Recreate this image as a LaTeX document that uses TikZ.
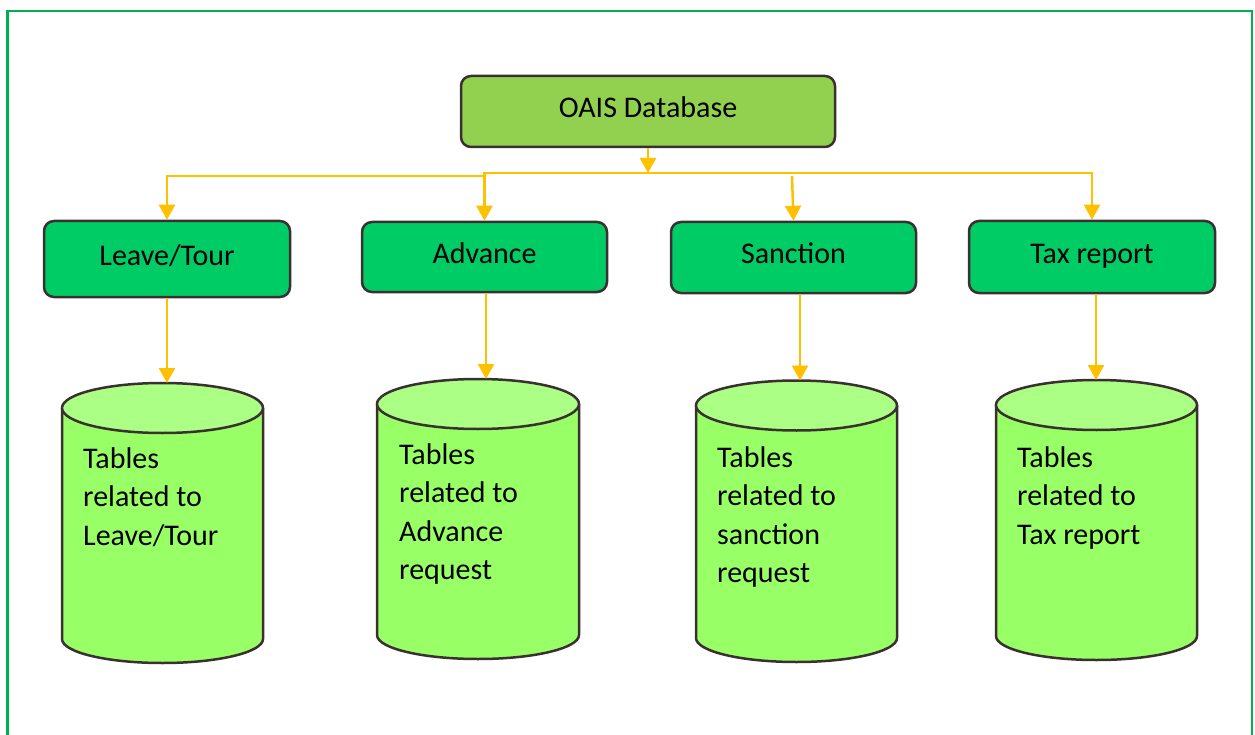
\documentclass[tikz,border=0pt]{standalone}
\usepackage{fontspec}
\setmainfont{Carlito}
\usetikzlibrary{arrows.meta}
\definecolor{framegreen}{HTML}{00B050}
\definecolor{boxgreen}{HTML}{00CC66}
\definecolor{topgreen}{HTML}{92D050}
\definecolor{cylbody}{HTML}{99FF66}
\definecolor{cyltop}{HTML}{ABFF85}
\definecolor{edge}{HTML}{3B3030}
\definecolor{arrowyellow}{HTML}{FFC000}
\newcommand\dbcylinder[6]{% cx, rx, top centre y, bottom centre y, name of top coordinate, arrow x
  \fill[cylbody] (#1-#2,#3) -- (#1-#2,#4) arc[start angle=180,end angle=360,x radius=#2pt,y radius=24pt] -- (#1+#2,#3) -- cycle;
  \draw[edge,line width=2.5pt] (#1-#2,#3) -- (#1-#2,#4) arc[start angle=180,end angle=360,x radius=#2pt,y radius=24pt] -- (#1+#2,#3);
  \filldraw[fill=cyltop,draw=edge,line width=2.5pt] (#1,#3) ellipse[x radius=#2pt,y radius=25pt];
  \coordinate (#5) at (#6,#3-25);
}
\begin{document}
\begin{tikzpicture}[x=1pt,y=-1pt,
  txt/.style={font=\fontsize{30}{38.5}\selectfont},
  catbox/.style={draw=edge,line width=2.5pt,fill=boxgreen,rounded corners=10pt,txt,
    text height=22pt,text depth=9pt,inner sep=0pt,minimum width=245pt,minimum height=71pt},
  conn/.style={draw=arrowyellow,line width=2.5pt},
  arr/.style={conn,-{Triangle[width=16pt,length=15pt]}},
  cyltext/.style={txt,align=left,anchor=north west,inner sep=0pt}]
\useasboundingbox (0,0) rectangle (1255,735);
\draw[framegreen,line width=2.5pt] (7.5,740) -- (7.5,11) -- (1252,11) -- (1252,740);

\node[catbox,fill=topgreen,minimum width=374pt,minimum height=71pt] (oais) at (648,111.5) {OAIS Database};
\node[catbox,minimum width=246pt,minimum height=76pt] (leave) at (167,259) {Leave/Tour};
\node[catbox,minimum height=70pt] (adv) at (484.5,257) {Advance};
\node[catbox] (sanc) at (793.5,257.5) {Sanction};
\node[catbox,minimum width=246pt,minimum height=72pt] (tax) at (1092,257) {Tax report};

\dbcylinder{162.5}{100.5}{408}{639}{c1}{167}
\dbcylinder{478}{101}{404}{635}{c2}{486}
\dbcylinder{796.5}{100.5}{405.5}{638}{c3}{800}
\dbcylinder{1096.5}{100.5}{405}{636}{c4}{1096}

\node[cyltext] (t1) at (83,447) {Tables\\related to\\Leave/Tour};
\node[cyltext] (t2) at (399,443) {Tables\\related to\\Advance\\request};
\node[cyltext] (t3) at (717,446) {Tables\\related to\\sanction\\request};
\node[cyltext] (t4) at (1017,446) {Tables\\related to\\Tax report};

\coordinate (j) at (648,173);
\coordinate (lj) at (485,176);
\coordinate (sj) at (792,176);
\draw[arr] (oais.south) -- (j);
\draw[arr] (j) -| (tax.north);
\draw[arr] (j) -| (adv.north);
\draw[arr] (lj) -| (leave.north);
\draw[arr] (sj) -- (sanc.north);

\draw[arr] (leave.south -| c1) -- (c1);
\draw[arr] (adv.south -| c2) -- (c2);
\draw[arr] (sanc.south -| c3) -- (c3);
\draw[arr] (tax.south -| c4) -- (c4);
\end{tikzpicture}
\end{document}
